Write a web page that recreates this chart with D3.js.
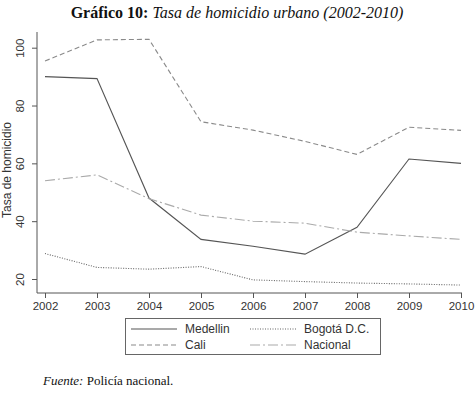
<!DOCTYPE html>
<meta charset="utf-8">
<script src="https://d3js.org/d3.v7.min.js"></script>
<style>
  body { margin: 0; background: #fff; }
</style>
<div id="chart"></div>
<script>
// data
var years = [2002, 2003, 2004, 2005, 2006, 2007, 2008, 2009, 2010];
var medellin = [90, 89.3, 48, 33.7, 31.3, 28.6, 37.9, 61.5, 60];
var cali = [95.4, 102.7, 102.9, 74.4, 71.5, 67.6, 63.1, 72.5, 71.4];
var bogota = [28.8, 24, 23.4, 24.3, 19.7, 19.1, 18.6, 18.3, 17.9];
var nacional = [54, 56, 47.8, 42.1, 40, 39.3, 36.2, 34.9, 33.7];
var yTicks = [20, 40, 60, 80, 100];

var series = [
  {name: "Medellin", values: medellin, color: "#555", dash: null},
  {name: "Cali", values: cali, color: "#8a8a8a", dash: "5,3"},
  {name: "Bogotá D.C.", values: bogota, color: "#666", dash: "1,1.5"},
  {name: "Nacional", values: nacional, color: "#aaa", dash: "10,3,2,3"}
];

var W = 476, H = 398;
var svg = d3.select("#chart").append("svg")
  .attr("width", W).attr("height", H);

// title
var title = svg.append("text")
  .attr("x", 237).attr("y", 18)
  .attr("text-anchor", "middle")
  .style("font-family", "Liberation Serif, serif")
  .style("font-size", "16px")
  .attr("fill", "#111");
title.append("tspan").style("font-weight", "bold").text("Gráfico 10: ");
title.append("tspan").style("font-style", "italic").text("Tasa de homicidio urbano (2002-2010)");

// scales
var x = d3.scaleLinear().domain([2002, 2010]).range([45, 461]);
var y = d3.scaleLinear().domain([20, 100]).range([279, 47.7]);

var axisColor = "#555";

// y axis
var gy = svg.append("g").attr("transform", "translate(37,0)");
gy.call(d3.axisLeft(y).tickValues(yTicks).tickSize(5).tickSizeOuter(0));
gy.select(".domain").remove();
gy.append("line").attr("x1", 0).attr("x2", 0).attr("y1", 32).attr("y2", 293)
  .attr("stroke", axisColor);
gy.selectAll(".tick line").attr("stroke", axisColor);
gy.selectAll(".tick text")
  .attr("x", 0).attr("dy", 0)
  .attr("transform", "translate(-13,0) rotate(-90)")
  .attr("text-anchor", "middle")
  .style("font-family", "Liberation Sans, Arial, sans-serif")
  .style("font-size", "11.5px")
  .attr("fill", "#333");

svg.append("text")
  .attr("transform", "translate(11,170) rotate(-90)")
  .attr("text-anchor", "middle")
  .style("font-family", "Liberation Sans, Arial, sans-serif")
  .style("font-size", "12px")
  .attr("fill", "#333")
  .text("Tasa de homicidio");

// x axis
var gx = svg.append("g").attr("transform", "translate(0,293)");
gx.call(d3.axisBottom(x).tickValues(years).tickFormat(d3.format("d")).tickSize(5).tickSizeOuter(0));
gx.select(".domain").remove();
gx.append("line").attr("x1", 37).attr("x2", 462).attr("y1", 0).attr("y2", 0)
  .attr("stroke", axisColor);
gx.selectAll(".tick line").attr("stroke", axisColor);
gx.selectAll(".tick text")
  .attr("y", 9)
  .style("font-family", "Liberation Sans, Arial, sans-serif")
  .style("font-size", "11.5px")
  .attr("fill", "#333");

// lines
var line = d3.line()
  .x(function(d, i) { return x(years[i]); })
  .y(function(d) { return y(d); });

svg.selectAll(".series")
  .data(series)
  .enter().append("path")
  .attr("class", "series")
  .attr("d", function(d) { return line(d.values); })
  .attr("fill", "none")
  .attr("stroke", function(d) { return d.color; })
  .attr("stroke-width", 1.1)
  .attr("stroke-dasharray", function(d) { return d.dash; });

// legend: Medellin, Bogotá top row; Cali, Nacional bottom
var lg = svg.append("g");
lg.append("rect")
  .attr("x", 125.5).attr("y", 318.5).attr("width", 255).attr("height", 36)
  .attr("fill", "#fff").attr("stroke", "#666");

var cols = [131, 250];
var order = [0, 2, 1, 3];
series.forEach(function(s, i) {
  var pos = order.indexOf(i);
  var col = pos % 2, row = Math.floor(pos / 2);
  var lx = cols[col];
  var ly = 329 + row * 16;
  lg.append("line")
    .attr("x1", lx).attr("x2", lx + 46)
    .attr("y1", ly).attr("y2", ly)
    .attr("stroke", s.color)
    .attr("stroke-width", 1.1)
    .attr("stroke-dasharray", s.dash);
  lg.append("text")
    .attr("x", lx + 54).attr("y", ly + 4)
    .style("font-family", "Liberation Sans, Arial, sans-serif")
    .style("font-size", "12px")
    .attr("fill", "#333")
    .text(s.name);
});

// source
var src = svg.append("text")
  .attr("x", 43).attr("y", 385)
  .style("font-family", "Liberation Serif, serif")
  .style("font-size", "13px")
  .attr("fill", "#111");
src.append("tspan").style("font-style", "italic").text("Fuente: ");
src.append("tspan").text("Policía nacional.");
</script>
